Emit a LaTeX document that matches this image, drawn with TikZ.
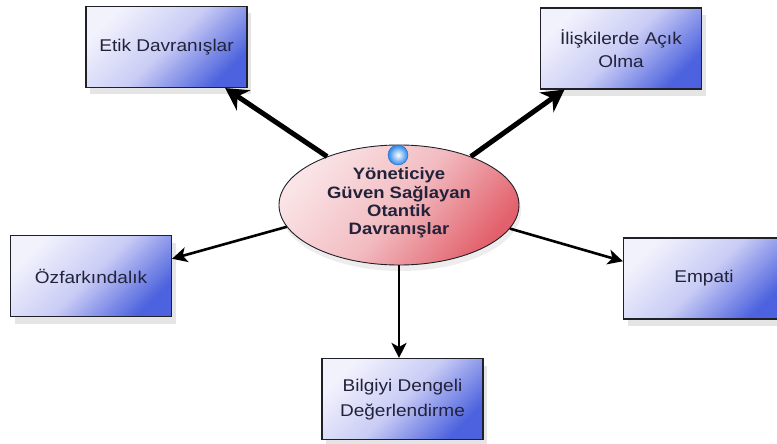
\documentclass[tikz,border=0pt]{standalone}
\usepackage{fontspec}
\setmainfont{Liberation Sans}
\newfontfamily\widefont[FakeStretch=1.12]{Liberation Sans}
\usetikzlibrary{shapes.geometric,arrows.meta,shadows}
\definecolor{boxtl}{HTML}{F2F2FD}
\definecolor{boxmid}{HTML}{C9CCF5}
\definecolor{boxbr}{HTML}{4C62DE}
\definecolor{elltl}{HTML}{FAE4E6}
\definecolor{ellmid}{HTML}{F2BCC1}
\definecolor{ellbr}{HTML}{E2606B}
\definecolor{txt}{HTML}{22223A}
\definecolor{edge}{HTML}{202028}
\definecolor{ballc}{HTML}{2A86EC}
\begin{document}
\begin{tikzpicture}[x=1pt,y=-1pt,
  box/.style={draw=edge, line width=1.1pt, minimum width=161pt, minimum height=81pt,
    inner sep=0pt, align=center, text=txt, font=\widefont\fontsize{17}{23}\selectfont,
    top color=boxtl, bottom color=boxbr, middle color=boxmid, shading angle=45,
    drop shadow={shadow xshift=4pt, shadow yshift=-7pt, opacity=0.10, fill=black}},
  ell/.style={ellipse, draw=edge, line width=0.9pt, minimum width=240pt, minimum height=120pt,
    inner sep=0pt, top color=elltl, bottom color=ellbr, middle color=ellmid, shading angle=50,
    drop shadow={shadow xshift=2pt, shadow yshift=-6pt, opacity=0.07, fill=black}},
  big/.style={draw=black, line width=5pt, -{Stealth[length=22pt,width=24pt,inset=7pt]}},
  small/.style={draw=black, line width=2.6pt, -{Stealth[length=15pt,width=15pt,inset=4pt]}}
]
\useasboundingbox (0,0) rectangle (777,444);
\fill[white] (0,0) rectangle (777,444);

\node[box] (etik) at (166.5,47) {Etik Davranışlar};
\node[box] (acik) at (621,48.5) {İlişkilerde Açık\\Olma};
\node[box] (ozf) at (91,276) {Özfarkındalık};
\node[box] (emp) at (704,278.5) {Empati};
\node[box] (bilgi) at (402.5,399) {\raisebox{-4pt}{\begin{tabular}{@{}c@{}}Bilgiyi Dengeli\\[2pt]Değerlendirme\end{tabular}}};

\node[ell] (mid) at (399,205) {};
\node[align=center, text=txt, font=\widefont\bfseries\fontsize{16.5}{18.4}\selectfont] (midtext) at (399,203)
  {Yöneticiye\\Güven Sağlayan\\Otantik\\Davranışlar};
\node[circle, minimum size=20pt, inner sep=0pt, inner color=white, outer color=ballc, draw=ballc!80!black, line width=0.4pt] (ball) at (398,155) {};

\draw[big] (mid.146) -- (etik.-35.5);
\draw[big] (mid.34) -- (acik.-144);
\draw[small] (mid.191) -- (ozf.12.5);
\draw[small] (mid.-12.7) -- (emp.168.5);
\draw[small] (mid.south) -- (bilgi.north -| mid.south);
\end{tikzpicture}
\end{document}
